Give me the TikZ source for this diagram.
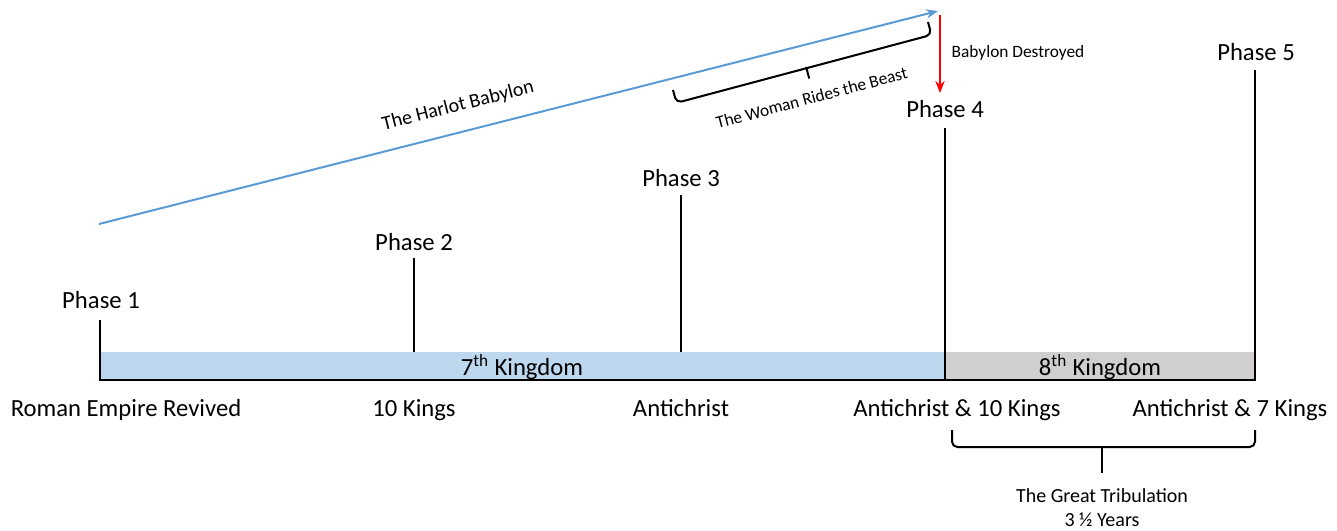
\documentclass[tikz,border=0pt]{standalone}
\usepackage{fontspec}
\setmainfont{Carlito}
\usetikzlibrary{arrows.meta, calc}
\usetikzlibrary{positioning}
\definecolor{kingdom_blue}{RGB}{189,215,238}
\definecolor{kingdom_grey}{RGB}{208,206,206}
\definecolor{harlot_blue}{RGB}{91,155,213}
\tikzstyle{big_label} = [
    font=\fontsize{18.5}{22}\selectfont, 
    inner sep=0pt, 
    text height=16pt, 
    text depth=4pt, 
    anchor=center
]
\tikzstyle{small_label} = [
    font=\fontsize{13}{16}\selectfont, 
    inner sep=0pt, 
    text height=10pt, 
    text depth=3pt, 
    anchor=center
]
\tikzstyle{mid_label} = [
    font=\fontsize{15}{18}\selectfont, 
    inner sep=0pt, 
    anchor=center, 
    align=center
]
\tikzstyle{time_line} = [
    draw=black, 
    line width=1.5pt
]
\tikzstyle{span_brace} = [
    draw=black, 
    line width=1.5pt, 
    rounded corners=4pt
]

\begin{document}
\begin{tikzpicture}[x=0.75pt, y=-0.75pt]
\useasboundingbox (0,0) rectangle (1337,531);

% kingdoms
\fill[kingdom_blue] (100,352) rectangle (945,380);
\fill[kingdom_grey] (945,352) rectangle (1255,380);
\node [big_label] (k7) at (522,367) {7\textsuperscript{th} Kingdom};
\node [big_label] (k8) at (1100,367) {8\textsuperscript{th} Kingdom};

% phase ticks
\coordinate (p1top) at (100,320);
\coordinate (p1bot) at (100,380);
\coordinate (p2top) at (414,258);
\coordinate (p2bot) at (414,352);
\coordinate (p3top) at (681,195);
\coordinate (p3bot) at (681,352);
\coordinate (p4top) at (945,128);
\coordinate (p4bot) at (945,380);
\coordinate (p5top) at (1255,70);
\coordinate (p5bot) at (1255,380);
\draw [time_line] (p1top) -- (p1bot) -- (p5bot) -- (p5top);
\draw [time_line] (p2top) -- (p2bot);
\draw [time_line] (p3top) -- (p3bot);
\draw [time_line] (p4top) -- (p4bot);

\node [big_label] (ph1) at (101,300) {Phase 1};
\node [big_label] (ph2) at (414,242) {Phase 2};
\node [big_label] (ph3) at (681,178) {Phase 3};
\node [big_label] (ph4) at (945,110) {Phase 4};
\node [big_label] (ph5) at (1256,53) {Phase 5};

\node [big_label] (roman) at (126,408) {Roman Empire Revived};
\node [big_label] (kings10) at (414,408) {10 Kings};
\node [big_label] (anti) at (681,408) {Antichrist};
\node [big_label] (anti10) at (957,408) {Antichrist \& 10 Kings};
\node [big_label] (anti7) at (1230,408) {Antichrist \& 7 Kings};

% the harlot
\coordinate (harlot_start) at (99,224);
\coordinate (harlot_end) at (938,11);
\draw [harlot_blue, line width=1.5pt, -{Stealth[length=9pt, width=7pt]}] (harlot_start) -- (harlot_end);
\node [mid_label, rotate=14.3] (harlot) at (458,106) {The Harlot Babylon};

\coordinate (fall_start) at (940,15);
\coordinate (fall_end) at (940,93);
\draw [red, line width=1.5pt, -{Stealth[length=9pt, width=7pt]}] (fall_start) -- (fall_end);
\node [small_label] (fall) at (1018,53) {Babylon Destroyed};

% braces
\coordinate (ride_a) at (673,90);
\coordinate (ride_b) at (928,22);
\coordinate (ride_m) at ($(ride_a)!0.51!(ride_b)$);
\draw [span_brace] (ride_a) -- ($(ride_a)!10pt!-90:(ride_b)$) -- ($(ride_m)!10pt!-90:(ride_b)$) -- ($(ride_b)!10pt!90:(ride_a)$) -- (ride_b);
\draw [time_line] ($(ride_m)!9pt!-90:(ride_b)$) -- ($(ride_m)!18pt!-90:(ride_b)$);
\node [small_label, rotate=14.9] (ride) at (812,99) {The Woman Rides the Beast};

\coordinate (trib_a) at (952,430);
\coordinate (trib_b) at (1255,430);
\coordinate (trib_m) at (1102,447);
\coordinate (trib_tip) at (1102,473);
\draw [span_brace] (trib_a) |- (trib_m) -| (trib_b);
\draw [time_line] (trib_m) -- (trib_tip);
\node [mid_label] (trib) at (1102,508) {The Great Tribulation\\3 ½ Years};
\end{tikzpicture}
\end{document}
